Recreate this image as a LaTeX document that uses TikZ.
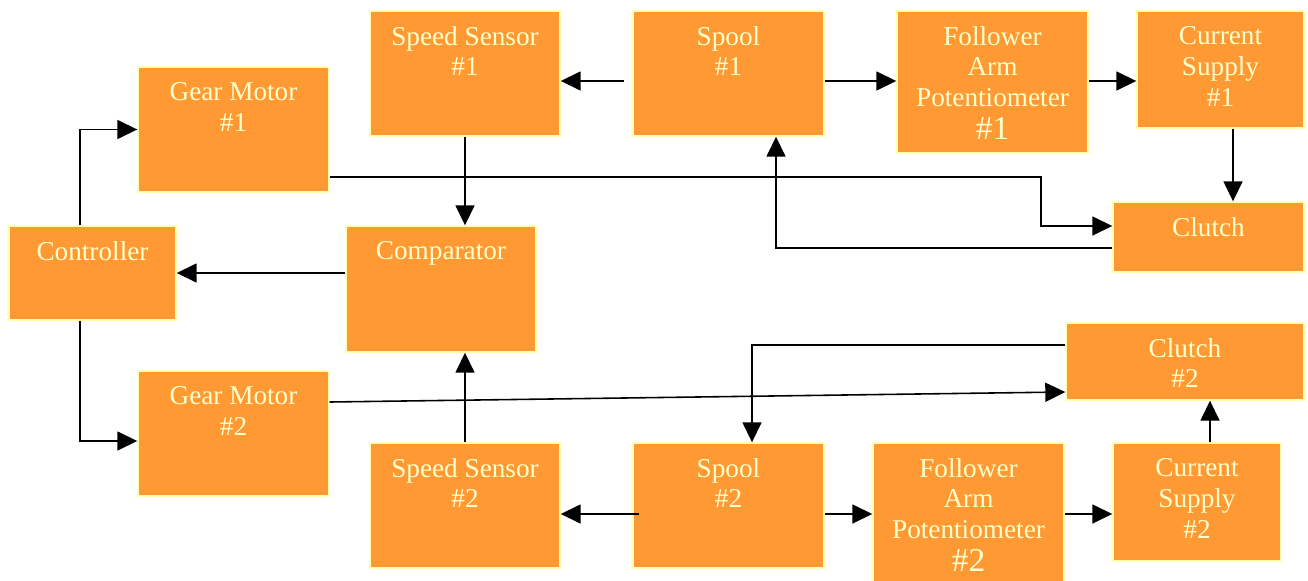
\documentclass[tikz,border=0pt]{standalone}
\usepackage{fontspec}
\setmainfont{Liberation Serif}
\usetikzlibrary{arrows.meta,calc,positioning,fit}
\definecolor{boxorange}{HTML}{FF9933}
\definecolor{boxedge}{HTML}{FFFFB0}
\definecolor{boxtext}{HTML}{FFFFCC}
\tikzset{blk/.style={draw=boxedge,line width=0.8pt,fill=boxorange,inner sep=0pt},
  lbl/.style={anchor=north,align=center,text=boxtext,inner xsep=0pt,inner ysep=0.31cm,
    font=\fontsize{15.5}{17.6}\selectfont},
  arr/.style={-{Triangle[length=0.4cm,width=0.38cm]},line width=0.9pt}}
\newcommand{\bignum}[1]{{\fontsize{19}{20}\selectfont #1}}

\begin{document}
\begin{tikzpicture}[x=0.02cm,y=-0.02cm]
\useasboundingbox (0,0) rectangle (1308,581);
% blocks, given by their corners
\node[blk,fit={(138,67) (329,192)},label={[lbl]north:{Gear Motor\\\#1}}] (gm1) {};
\node[blk,fit={(9,226) (176,320)},label={[lbl]north:{Controller}}] (ctrl) {};
\node[blk,fit={(138,371) (329,496)},label={[lbl]north:{Gear Motor\\\#2}}] (gm2) {};
\node[blk,fit={(370,11) (560,136)},label={[lbl]north:{Speed Sensor\\\#1}}] (ss1) {};
\node[blk,fit={(346,226) (536,352)},label={[lbl]north:{Comparator}}] (cmp) {};
\node[blk,fit={(370,443) (560,568)},label={[lbl]north:{Speed Sensor\\\#2}}] (ss2) {};
\node[blk,fit={(633,11) (824,136)},label={[lbl]north:{Spool\\\#1}}] (sp1) {};
\node[blk,fit={(633,443) (824,568)},label={[lbl]north:{Spool\\\#2}}] (sp2) {};
\node[blk,fit={(897,11) (1088,153)},label={[lbl]north:{Follower\\Arm\\Potentiometer\\[1pt]\bignum{\#1}}}] (fa1) {};
\node[blk,fit={(873,443) (1064,584)},label={[lbl]north:{Follower\\Arm\\Potentiometer\\[1pt]\bignum{\#2}}}] (fa2) {};
\node[blk,fit={(1137,11) (1304,128)},label={[lbl]north:{Current\\Supply\\\#1}}] (cs1) {};
\node[blk,fit={(1113,202) (1304,272)},label={[lbl]north:{Clutch}}] (cl1) {};
\node[blk,fit={(1066,323) (1304,400)},label={[lbl]north:{Clutch\\\#2}}] (cl2) {};
\node[blk,fit={(1113,443) (1281,561)},label={[lbl]north:{Current\\Supply\\\#2}}] (cs2) {};

% rows and columns the connectors run along
\coordinate (cx) at (80,0);
\coordinate (r1) at (0,81);
\coordinate (r2) at (0,514);
\coordinate (c1) at (1233,0);
\coordinate (c2) at (1210,0);
\coordinate (g1) at (0,177);
\coordinate (k1) at (1041,226);
\coordinate (k2) at (776,248);
\coordinate (k3) at (752,345);

\draw[arr] (ctrl.north -| cx) |- (gm1.west);
\draw[arr] (ctrl.south -| cx) |- ([yshift=-0.15cm]gm2.west);
\draw[arr] (cmp.west |- ctrl.east) -- (ctrl.east);
\draw[arr] (ss1.south) -- (ss1.south |- cmp.north);
\draw[arr] (ss2.north) -- (ss2.north |- cmp.south);

\draw[arr] ([xshift=-0.16cm]sp1.west |- r1) -- (ss1.east |- r1);
\draw[arr] (sp1.east |- r1) -- (fa1.west |- r1);
\draw[arr] (fa1.east |- r1) -- (cs1.west |- r1);
\draw[arr] (cs1.south -| c1) -- (cl1.north -| c1);
\draw[arr] (gm1.east |- g1) -| (k1) -- (cl1.west |- k1);
\draw[arr] (cl1.west |- k2) -| (sp1.south -| k2);

\draw[arr] ([yshift=0.63cm]gm2.east) -- ([yshift=-0.61cm]cl2.west);
\draw[arr] (cl2.west |- k3) -| (sp2.north -| k3);
\draw[arr] ([xshift=0.14cm]sp2.west |- r2) -- (ss2.east |- r2);
\draw[arr] (sp2.east |- r2) -- (fa2.west |- r2);
\draw[arr] (fa2.east |- r2) -- (cs2.west |- r2);
\draw[arr] (cs2.north -| c2) -- (cl2.south -| c2);
\end{tikzpicture}
\end{document}
